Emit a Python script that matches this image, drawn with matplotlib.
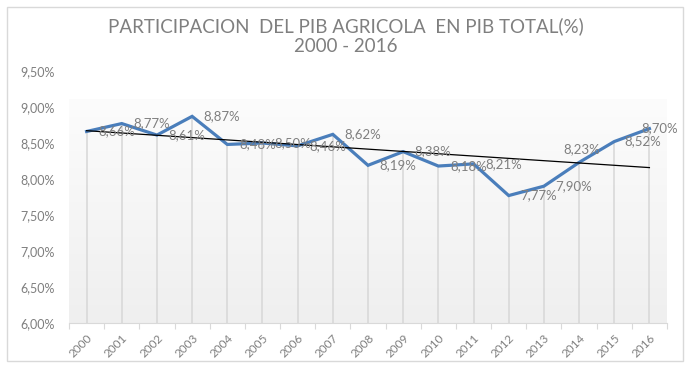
import numpy as np
import matplotlib
matplotlib.use('Agg')
import matplotlib.pyplot as plt
from matplotlib.patches import Rectangle
from matplotlib.ticker import FuncFormatter

# data
years = ['2000', '2001', '2002', '2003', '2004', '2005', '2006', '2007', '2008',
         '2009', '2010', '2011', '2012', '2013', '2014', '2015', '2016']
share_pct = [8.66, 8.77, 8.61, 8.87, 8.48, 8.50, 8.46, 8.62, 8.19,
             8.38, 8.18, 8.21, 7.77, 7.90, 8.23, 8.52, 8.70]
yticks = [6.0, 6.5, 7.0, 7.5, 8.0, 8.5, 9.0, 9.5]

# label offsets in pixels (excel put most labels to the right of the point)
label_offsets = [(30, 0)] * 14 + [(3, 13), (29, 0), (10, 0)]

plt.rcParams['font.family'] = ['Lato', 'DejaVu Sans']

def pct(v, pos=None):
    return f'{v:.2f}%'.replace('.', ',')

fig = plt.figure(figsize=(6.91, 3.68), dpi=100)
fig.patches.append(Rectangle((7/691, 1 - 361/368), 676/691, 354/368, transform=fig.transFigure,
                             fill=False, edgecolor='#d9d9d9', linewidth=1))

ax = fig.add_axes([69/691, 1 - 323/368, 598/691, 252/368])
x = np.arange(len(years))
y = np.array(share_pct)

# plot area gradient
grad = np.linspace(0, 1, 256).reshape(-1, 1)
ax.imshow(grad, extent=(-0.5, 16.5, 6.0, 9.1), aspect='auto', origin='upper',
          cmap=matplotlib.colors.LinearSegmentedColormap.from_list('g', ['#fcfcfc', '#efefef']),
          zorder=0)

# drop lines
ax.vlines(x, 6.0, y, color='#d9d9d9', linewidth=1.2, zorder=1)

# trend line
k, b = np.polyfit(x, y, 1)
ax.plot(x, k * x + b, color='black', linewidth=0.9, zorder=3)

ax.plot(x, y, color='#4a7ebb', linewidth=2.3, zorder=2, solid_joinstyle='miter')

for xi, yi, (dx, dy) in zip(x, y, label_offsets):
    ax.annotate(pct(yi), (xi, yi), xytext=(dx, dy), textcoords='offset pixels',
                ha='center', va='center', fontsize=9.5, color='#7f7f7f', zorder=4)

ax.set_xlim(-0.5, 16.5)
ax.set_ylim(6.0, 9.5)
ax.set_yticks(yticks)
ax.yaxis.set_major_formatter(FuncFormatter(pct))
ax.set_xticks(np.arange(-0.5, 17, 1), minor=False)
ax.set_xticklabels([])
ax.set_xticks(x, minor=True)
ax.set_xticklabels(years, minor=True, rotation=45, ha='right', rotation_mode='anchor')
ax.tick_params(axis='x', which='major', length=4, color='#d9d9d9', direction='out')
ax.tick_params(axis='x', which='minor', length=0, pad=7, labelsize=8.5, labelcolor='#7f7f7f')
ax.tick_params(axis='y', length=0, pad=10, labelsize=9, labelcolor='#7f7f7f')
for s in ['top', 'right', 'left']:
    ax.spines[s].set_visible(False)
ax.spines['bottom'].set_color('#d9d9d9')
ax.patch.set_alpha(0)

fig.text(0.5, 1 - 26/368, 'PARTICIPACION  DEL PIB AGRICOLA  EN PIB TOTAL(%)', ha='center', va='center',
         fontsize=13.5, color='#7f7f7f')
fig.text(0.5, 1 - 46/368, '2000 - 2016', ha='center', va='center', fontsize=13.5, color='#7f7f7f')

fig.savefig('out.png', dpi=100)
